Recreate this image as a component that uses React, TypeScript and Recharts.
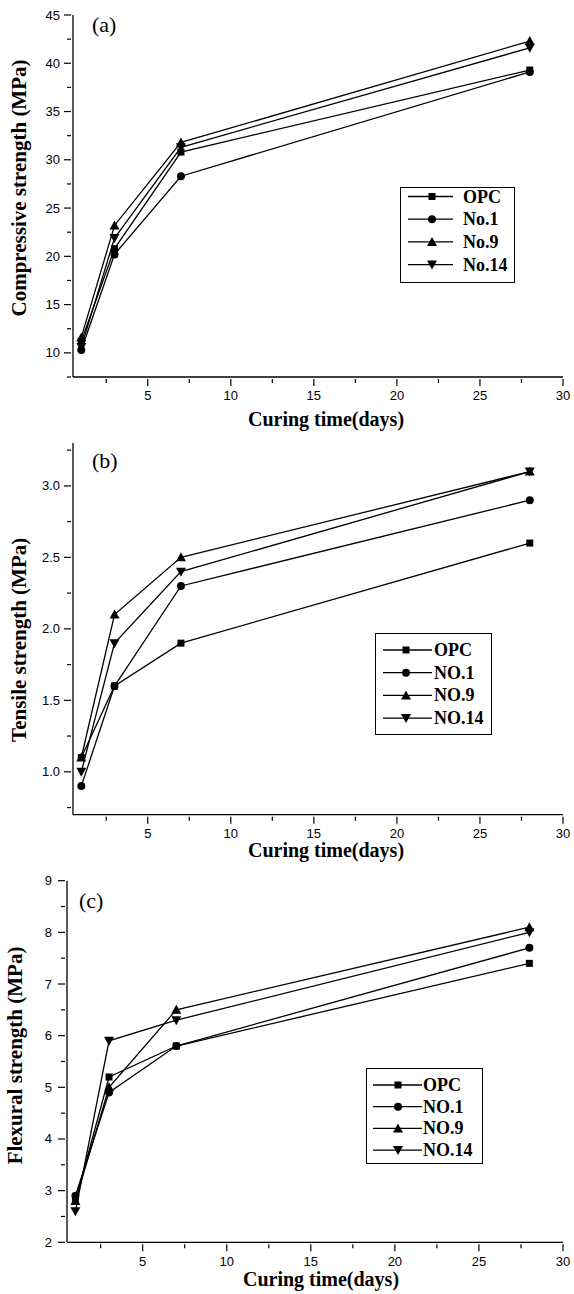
import { Label, Legend, Line, LineChart, XAxis, YAxis } from 'recharts';

// curing ages (days)
const days = [1, 3, 7, 28];

const namesA = ['OPC', 'No.1', 'No.9', 'No.14'];
const namesBC = ['OPC', 'NO.1', 'NO.9', 'NO.14'];

// (a) compressive strength, MPa
const compOPC = [11.2, 20.8, 30.8, 39.3];
const compNo1 = [10.3, 20.2, 28.3, 39.1];
const compNo9 = [11.6, 23.2, 31.8, 42.3];
const compNo14 = [10.6, 21.9, 31.3, 41.6];

// (b) tensile strength, MPa
const tensOPC = [1.1, 1.6, 1.9, 2.6];
const tensNo1 = [0.9, 1.6, 2.3, 2.9];
const tensNo9 = [1.1, 2.1, 2.5, 3.1];
const tensNo14 = [1.0, 1.9, 2.4, 3.1];

// (c) flexural strength, MPa
const flexOPC = [2.8, 5.2, 5.8, 7.4];
const flexNo1 = [2.9, 4.9, 5.8, 7.7];
const flexNo9 = [2.8, 5.0, 6.5, 8.1];
const flexNo14 = [2.6, 5.9, 6.3, 8.0];

// tick labels
const xMajor = [5, 10, 15, 20, 25, 30];
const xMinor = [2.5, 7.5, 12.5, 17.5, 22.5, 27.5];
const compMajor = [10, 15, 20, 25, 30, 35, 40, 45];
const compMinor = [7.5, 12.5, 17.5, 22.5, 27.5, 32.5, 37.5, 42.5];
const tensMajor = [1.0, 1.5, 2.0, 2.5, 3.0];
const tensMinor = [0.75, 1.25, 1.75, 2.25, 2.75, 3.25];
const flexMajor = [2, 3, 4, 5, 6, 7, 8, 9];
const flexMinor = [2.5, 3.5, 4.5, 5.5, 6.5, 7.5, 8.5];

const shapes = ['square', 'circle', 'up', 'down'];

const SERIF = "'Liberation Serif', 'Times New Roman', serif";
const SANS = "'Liberation Sans', Arial, sans-serif";

function Marker({ shape, cx, cy }: { shape: string; cx: number; cy: number }) {
  if (shape === 'square') return <rect x={cx - 3.5} y={cy - 3.5} width={7} height={7} fill="#000" />;
  if (shape === 'circle') return <circle cx={cx} cy={cy} r={4} fill="#000" />;
  if (shape === 'up')
    return <path d={`M${cx},${cy - 5}L${cx + 5},${cy + 4}L${cx - 5},${cy + 4}Z`} fill="#000" />;
  return <path d={`M${cx},${cy + 5}L${cx + 5},${cy - 4}L${cx - 5},${cy - 4}Z`} fill="#000" />;
}

function Panel({ cfg }: { cfg: any }) {
  const data = days.map((d, i) => {
    const row: any = { day: d };
    cfg.series.forEach((s: number[], k: number) => {
      row['s' + k] = s[i];
    });
    return row;
  });
  const yTicks = [...cfg.yMajor, ...cfg.yMinor].sort((a, b) => a - b);
  const xTicks = [...xMajor, ...xMinor].sort((a, b) => a - b);
  const lg = cfg.legend;

  return (
    <div style={{ position: 'absolute', left: 0, top: cfg.top, width: 574, height: cfg.height }}>
      <LineChart
        width={574}
        height={cfg.height}
        data={data}
        margin={{ top: cfg.plotTop, right: 11, bottom: 0, left: 0 }}
      >
        <XAxis
          dataKey="day"
          type="number"
          domain={[0.5, 30]}
          allowDataOverflow
          ticks={xTicks}
          interval={0}
          tickSize={0}
          tickLine={false}
          height={cfg.xAxisH}
          axisLine={{ stroke: '#000', strokeWidth: 1.3 }}
          tick={(p: any) => {
            const major = xMajor.includes(p.payload.value);
            return (
              <g>
                <line x1={p.x} x2={p.x} y1={p.y} y2={p.y + (major ? 7 : 4)} stroke="#000" strokeWidth={1.2} />
                {major && (
                  <text x={p.x} y={p.y + 12} dy="0.71em" textAnchor="middle" fontFamily={SANS} fontSize={13} fill="#000">
                    {p.payload.value}
                  </text>
                )}
              </g>
            );
          }}
        >
          <Label
            content={(p: any) => {
              const vb = p.viewBox;
              return (
                <text
                  x={vb.x + vb.width / 2 + cfg.xTitleDx}
                  y={vb.y + cfg.xTitleDy}
                  textAnchor="middle"
                  fontFamily={SERIF}
                  fontWeight="bold"
                  fontSize={20}
                  fill="#000"
                >
                  Curing time(days)
                </text>
              );
            }}
          />
        </XAxis>
        <YAxis
          type="number"
          domain={cfg.yDomain}
          allowDataOverflow
          ticks={yTicks}
          interval={0}
          tickSize={0}
          tickLine={false}
          width={cfg.yAxisW}
          axisLine={{ stroke: '#000', strokeWidth: 1.3 }}
          tick={(p: any) => {
            const major = cfg.yMajor.includes(p.payload.value);
            return (
              <g>
                <line x1={p.x - (major ? 7 : 4)} x2={p.x} y1={p.y} y2={p.y} stroke="#000" strokeWidth={1.2} />
                {major && (
                  <text
                    x={p.x - 7 - cfg.yTickGap}
                    y={p.y}
                    textAnchor="end"
                    dominantBaseline="central"
                    fontFamily={SANS}
                    fontSize={13}
                    fill="#000"
                  >
                    {cfg.fmt(p.payload.value)}
                  </text>
                )}
              </g>
            );
          }}
        >
          <Label
            content={(p: any) => {
              const vb = p.viewBox;
              const cy = vb.y + vb.height / 2 + cfg.yTitleDy;
              return (
                <text
                  x={cfg.yTitleX}
                  y={cy}
                  transform={`rotate(-90, ${cfg.yTitleX}, ${cy})`}
                  textAnchor="middle"
                  fontFamily={SERIF}
                  fontWeight="bold"
                  fontSize={21}
                  fill="#000"
                >
                  {cfg.yTitle}
                </text>
              );
            }}
          />
        </YAxis>
        <Legend
          layout="vertical"
          align="center"
          verticalAlign="middle"
          wrapperStyle={{ left: lg.left, top: lg.top, width: lg.w, height: lg.h }}
          content={(p: any) => {
            const items = [...(p.payload || [])].sort((a: any, b: any) =>
              String(a.dataKey).localeCompare(String(b.dataKey)),
            );
            return (
              <svg width={lg.w} height={lg.h} style={{ display: 'block', overflow: 'visible' }}>
                <rect x={0.5} y={0.5} width={lg.w - 1} height={lg.h - 1} fill="#fff" stroke="#000" strokeWidth={1} />
                {items.map((item: any) => {
                  const k = Number(String(item.dataKey).slice(1));
                  const cy = lg.first + k * lg.gap;
                  return (
                    <g key={item.value}>
                      <line x1={lg.x1} x2={lg.x2} y1={cy} y2={cy} stroke="#000" strokeWidth={1.3} />
                      <Marker shape={shapes[k]} cx={lg.mx} cy={cy} />
                      <text
                        x={lg.tx}
                        y={cy}
                        dominantBaseline="central"
                        fontFamily={SERIF}
                        fontWeight="bold"
                        fontSize={18}
                        fill="#000"
                      >
                        {item.value}
                      </text>
                    </g>
                  );
                })}
              </svg>
            );
          }}
        />
        {cfg.series.map((_: number[], k: number) => (
          <Line
            key={k}
            type="linear"
            dataKey={'s' + k}
            name={cfg.names[k]}
            stroke="#000"
            strokeWidth={1.3}
            isAnimationActive={false}
            dot={(d: any) => <Marker key={`${k}-${d.index}`} shape={shapes[k]} cx={d.cx} cy={d.cy} />}
            activeDot={false}
          />
        ))}
      </LineChart>
      <svg
        width={574}
        height={cfg.height}
        style={{ position: 'absolute', left: 0, top: 0, pointerEvents: 'none' }}
      >
        <text x={cfg.tag[0]} y={cfg.tag[1]} fontFamily={SERIF} fontSize={22} fill="#000">
          {cfg.tagText}
        </text>
      </svg>
    </div>
  );
}

const panelA = {
  top: 0,
  height: 435,
  plotTop: 15,
  xAxisH: 58,
  yAxisW: 73,
  yDomain: [7.5, 45],
  yMajor: compMajor,
  yMinor: compMinor,
  fmt: (v: number) => String(v),
  yTickGap: 4,
  xTitleDx: 8,
  xTitleDy: 49,
  yTitleX: 26,
  yTitleDy: -8,
  yTitle: 'Compressive strength (MPa)',
  tag: [92, 32],
  tagText: '(a)',
  names: namesA,
  series: [compOPC, compNo1, compNo9, compNo14],
  legend: { left: 400, top: 187, w: 115, h: 96, first: 9.5, gap: 22.7, x1: 8, x2: 53, mx: 32, tx: 63 },
};

const panelB = {
  top: 435,
  height: 430,
  plotTop: 8,
  xAxisH: 50.3,
  yAxisW: 73,
  yDomain: [0.7, 3.3],
  yMajor: tensMajor,
  yMinor: tensMinor,
  fmt: (v: number) => v.toFixed(1),
  yTickGap: 4,
  xTitleDx: 8,
  xTitleDy: 42,
  yTitleX: 26,
  yTitleDy: 11,
  yTitle: 'Tensile strength (MPa)',
  tag: [92, 33],
  tagText: '(b)',
  names: namesBC,
  series: [tensOPC, tensNo1, tensNo9, tensNo14],
  legend: { left: 375, top: 198, w: 117, h: 102, first: 17, gap: 22.7, x1: 8, x2: 57, mx: 31, tx: 59 },
};

const panelC = {
  top: 865,
  height: 429,
  plotTop: 15.7,
  xAxisH: 51.7,
  yAxisW: 67,
  yDomain: [2, 9],
  yMajor: flexMajor,
  yMinor: flexMinor,
  fmt: (v: number) => String(v),
  yTickGap: 6,
  xTitleDx: 6,
  xTitleDy: 44,
  yTitleX: 22,
  yTitleDy: -6,
  yTitle: 'Flexural strength (MPa)',
  tag: [79, 43],
  tagText: '(c)',
  names: namesBC,
  series: [flexOPC, flexNo1, flexNo9, flexNo14],
  legend: { left: 366, top: 203, w: 117, h: 96, first: 17, gap: 21.7, x1: 7, x2: 56, mx: 32, tx: 57 },
};

export default function App() {
  return (
    <div style={{ position: 'absolute', left: 0, top: 0, width: 574, height: 1294, background: '#fff' }}>
      <Panel cfg={panelA} />
      <Panel cfg={panelB} />
      <Panel cfg={panelC} />
    </div>
  );
}
